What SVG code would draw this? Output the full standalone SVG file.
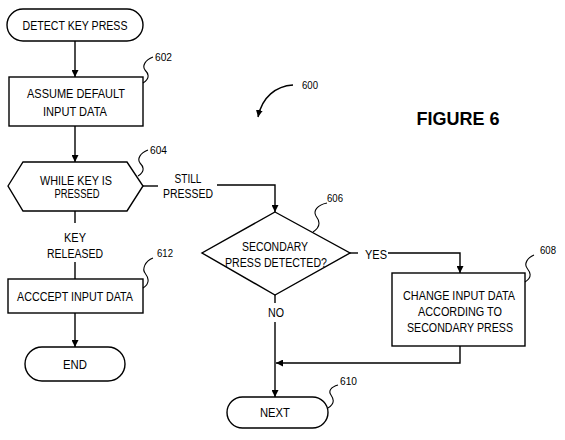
<svg xmlns="http://www.w3.org/2000/svg" width="565" height="440" viewBox="0 0 565 440">
<style>
.s{fill:#fff;stroke:#000;stroke-width:1.4}
.t{font-family:"Liberation Sans",Arial,sans-serif;font-size:12.5px;fill:#000;text-anchor:middle}
.n{font-family:"Liberation Sans",Arial,sans-serif;font-size:11.5px;fill:#000}
.c{fill:none;stroke:#000;stroke-width:1.4}
.q{fill:none;stroke:#000;stroke-width:1.1}
</style>
<defs>
<marker id="a" viewBox="0 0 10 10" refX="10" refY="5" markerWidth="7" markerHeight="7" markerUnits="userSpaceOnUse" orient="auto">
<path d="M0,0 L10,5 L0,10 z" fill="#000"/>
</marker>
</defs>
<rect width="565" height="440" fill="#fff"/>
<g id="connectors">
<path class="c" d="M75,41 V77" marker-end="url(#a)"/>
<path class="c" d="M75,126 V162" marker-end="url(#a)"/>
<path class="c" d="M75,211 V223"/>
<path class="c" d="M75,262 V279"/>
<path class="c" d="M75,313 V347" marker-end="url(#a)"/>
<path class="c" d="M143,186 H158"/>
<path class="c" d="M217,185 H275 V212" marker-end="url(#a)"/>
<path class="c" d="M350,253 H358"/>
<path class="c" d="M388,253 H460 V273" marker-end="url(#a)"/>
<path class="c" d="M275,295 V303"/>
<path class="c" d="M275,322 V397" marker-end="url(#a)"/>
<path class="c" d="M460,346 V363 H276" marker-end="url(#a)"/>
<path class="c" d="M293,85 C276,86 262,97 258,117" marker-end="url(#a)"/>
<text class="t" x="188" y="182.5" textLength="27" lengthAdjust="spacingAndGlyphs">STILL</text>
<text class="t" x="188" y="197.5" textLength="50" lengthAdjust="spacingAndGlyphs">PRESSED</text>
<text class="t" x="376" y="258.5" textLength="22" lengthAdjust="spacingAndGlyphs">YES</text>
<text class="t" x="276" y="316.5" textLength="16" lengthAdjust="spacingAndGlyphs">NO</text>
<text class="t" x="75" y="241.5" textLength="22" lengthAdjust="spacingAndGlyphs">KEY</text>
<text class="t" x="75" y="257.5" textLength="56" lengthAdjust="spacingAndGlyphs">RELEASED</text>
</g>
<g id="n600">
<text class="n" x="302" y="89" textLength="16" lengthAdjust="spacingAndGlyphs">600</text>
</g>
<g id="fig">
<text x="458" y="125" font-family="'Liberation Sans',Arial,sans-serif" font-size="18" font-weight="bold" text-anchor="middle" textLength="83" lengthAdjust="spacingAndGlyphs">FIGURE 6</text>
</g>
<g id="start">
<rect class="s" x="7" y="9" width="136" height="32" rx="16"/>
<text class="t" x="75" y="29.5" textLength="105" lengthAdjust="spacingAndGlyphs">DETECT KEY PRESS</text>
</g>
<g id="n602">
<rect class="s" x="9" y="77" width="134" height="49"/>
<text class="t" x="76" y="98" textLength="98" lengthAdjust="spacingAndGlyphs">ASSUME DEFAULT</text>
<text class="t" x="75" y="115.5" textLength="64" lengthAdjust="spacingAndGlyphs">INPUT DATA</text>
<path class="q" d="M143,83 C151,78 148,73 145,70 C142,66 145,60 153,57"/>
<text class="n" x="155" y="61" textLength="17" lengthAdjust="spacingAndGlyphs">602</text>
</g>
<g id="n604">
<polygon class="s" points="8,186 23,162 127,162 143,186 127,211 23,211"/>
<text class="t" x="76" y="184.5" textLength="72" lengthAdjust="spacingAndGlyphs">WHILE KEY IS</text>
<text class="t" x="77" y="197.5" textLength="45" lengthAdjust="spacingAndGlyphs">PRESSED</text>
<path class="q" d="M138,176 C146,171 143,166 140,163 C137,159 140,153 148,150"/>
<text class="n" x="150" y="154" textLength="17" lengthAdjust="spacingAndGlyphs">604</text>
</g>
<g id="n606">
<polygon class="s" points="275,212 350,253 275,295 202,253"/>
<text class="t" x="275" y="250.5" textLength="66" lengthAdjust="spacingAndGlyphs">SECONDARY</text>
<text class="t" x="276" y="266.5" textLength="102" lengthAdjust="spacingAndGlyphs">PRESS DETECTED?</text>
<path class="q" d="M313,232 C322,226 319,220 316,216 C313,211 317,205 327,203"/>
<text class="n" x="327" y="202" textLength="16" lengthAdjust="spacingAndGlyphs">606</text>
</g>
<g id="n608">
<rect class="s" x="392" y="273" width="133" height="73"/>
<text class="t" x="459" y="299.5" textLength="112" lengthAdjust="spacingAndGlyphs">CHANGE INPUT DATA</text>
<text class="t" x="460" y="315.5" textLength="84" lengthAdjust="spacingAndGlyphs">ACCORDING TO</text>
<text class="t" x="460" y="331.5" textLength="106" lengthAdjust="spacingAndGlyphs">SECONDARY PRESS</text>
<path class="q" d="M525,282 C533,277 530,272 527,268 C524,264 527,258 534,255"/>
<text class="n" x="540" y="254" textLength="16" lengthAdjust="spacingAndGlyphs">608</text>
</g>
<g id="n610">
<rect class="s" x="227" y="397" width="101" height="31" rx="15.5"/>
<text class="t" x="275" y="416.5" textLength="30" lengthAdjust="spacingAndGlyphs">NEXT</text>
<path class="q" d="M328,408 C336,403 333,398 331,395 C328,391 331,387 338,385"/>
<text class="n" x="340" y="385" textLength="17" lengthAdjust="spacingAndGlyphs">610</text>
</g>
<g id="n612">
<rect class="s" x="8" y="279" width="135" height="34"/>
<text class="t" x="75" y="300.5" textLength="116" lengthAdjust="spacingAndGlyphs">ACCCEPT INPUT DATA</text>
<path class="q" d="M143,288 C151,283 148,277 145,273 C142,269 145,261 153,258"/>
<text class="n" x="157" y="257" textLength="16" lengthAdjust="spacingAndGlyphs">612</text>
</g>
<g id="end">
<rect class="s" x="25" y="347" width="100" height="34" rx="17"/>
<text class="t" x="75" y="368.5" textLength="24" lengthAdjust="spacingAndGlyphs">END</text>
</g>
</svg>
